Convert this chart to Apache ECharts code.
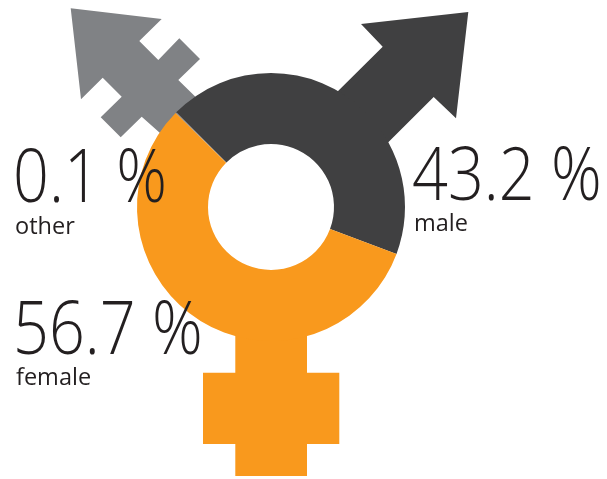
<!DOCTYPE html>
<html>
<head>
<meta charset="utf-8">
<style>
  html, body { margin: 0; padding: 0; background: #fff; }
  #chart { width: 607px; height: 479px; }
</style>
</head>
<body>
<div id="chart"></div>
<script src="https://cdn.jsdelivr.net/npm/echarts@6/dist/echarts.min.js"></script>
<script>
// data
const categories = ['other', 'male', 'female'];
const values = [0.1, 43.2, 56.7];
const colors = ['#808285', '#404041', '#F9991D'];

// label anchors, same order as categories
const labelPos = [[13, 218], [412, 216], [13, 370]];
const wordPos = [[15, 239], [414, 236], [16, 390]];

// symbol arms around the ring
const otherArm = [[70.7, 8.3], [161.7, 19], [139.3, 41], [158.3, 60], [179.3, 38.3], [200, 59], [178.3, 80], [196.7, 98],
  [176.7, 113], [160, 133], [141.7, 116.7], [120.7, 137.3], [100.7, 117.3], [121.7, 96.7], [102.7, 77.7], [81, 99.3]];
const maleArm = [[468.3, 12], [456, 118.3], [433.7, 97], [388.3, 142.3], [363, 167], [312, 117], [337.3, 91.7], [382.7, 46.7], [361, 24]];
const femaleArm = [[235.3, 300], [307, 300], [307, 372.7], [339.3, 372.7], [339.3, 444], [307, 444], [307, 476], [235.3, 476], [235.3, 444], [203, 444], [203, 372.7], [235.3, 372.7]];

const chart = echarts.init(document.getElementById('chart'), null, { renderer: 'canvas' });

const armShape = (points, fill) => ({ type: 'polygon', z: 1, silent: true, shape: { points }, style: { fill } });

const texts = [];
categories.forEach((name, i) => {
  texts.push({
    type: 'text', z: 100, silent: true, x: labelPos[i][0], y: labelPos[i][1], scaleX: 0.85,
    style: {
      text: values[i].toFixed(1) + ' %',
      font: '300 74px "Open Sans"',
      fill: '#231F20',
      textVerticalAlign: 'bottom'
    }
  });
  texts.push({
    type: 'text', z: 100, silent: true, x: wordPos[i][0], y: wordPos[i][1], scaleX: 0.98,
    style: {
      text: name,
      font: '400 24px "Open Sans"',
      fill: '#231F20',
      textVerticalAlign: 'bottom'
    }
  });
});

chart.setOption({
  animation: false,
  graphic: {
    elements: [
      armShape(otherArm, colors[0]),
      armShape(maleArm, colors[1]),
      armShape(femaleArm, colors[2]),
      ...texts
    ]
  },
  series: [{
    type: 'pie',
    center: [271, 207],
    radius: [63, 134],
    startAngle: 135.4,
    clockwise: true,
    silent: true,
    label: { show: false },
    labelLine: { show: false },
    data: categories.map((name, i) => ({ name, value: values[i], itemStyle: { color: colors[i] } }))
  }]
});
</script>
</body>
</html>
